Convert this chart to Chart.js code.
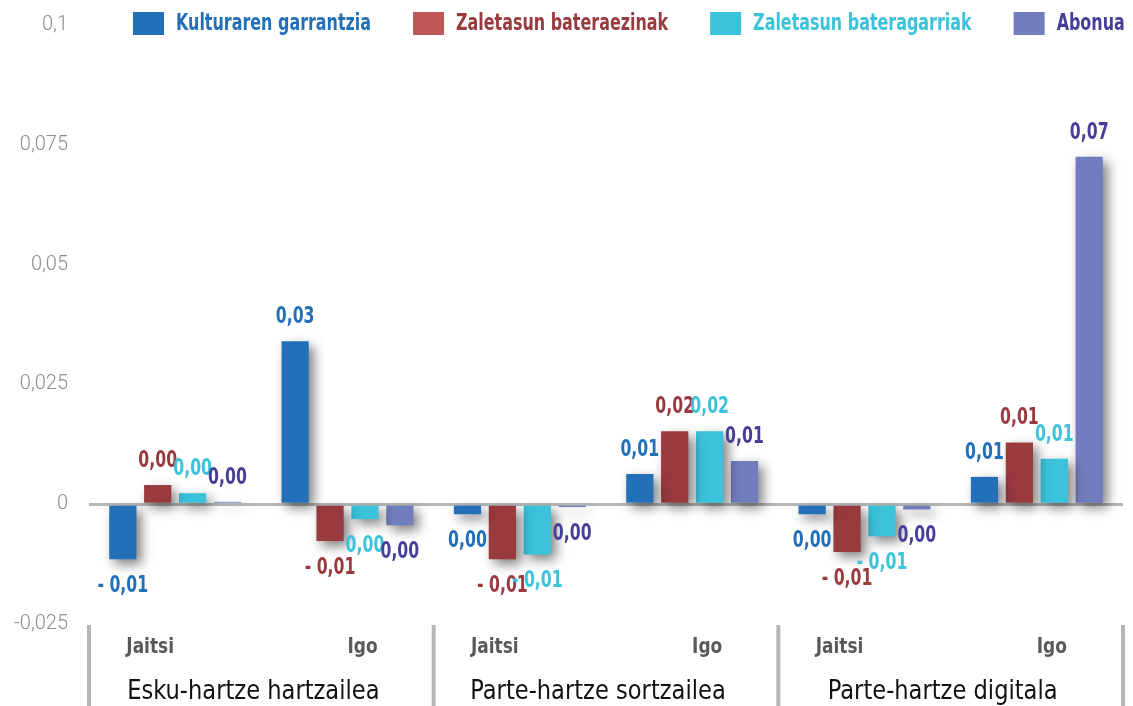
<!DOCTYPE html>
<html>
<head>
<meta charset="utf-8">
<script src="https://cdn.jsdelivr.net/npm/chart.js@4.4.0/dist/chart.umd.min.js"></script>
<style>
  html, body { margin: 0; padding: 0; background: #fff; }
  #wrap { width: 1133px; height: 706px; }
</style>
</head>
<body>
<div id="wrap"><canvas id="chart"></canvas></div>
<script>
// categories
const categories = ["Jaitsi", "Igo", "Jaitsi", "Igo", "Jaitsi", "Igo"];
const groups = ["Esku-hartze hartzailea", "Parte-hartze sortzailea", "Parte-hartze digitala"];
const seriesNames = ["Kulturaren garrantzia", "Zaletasun bateraezinak", "Zaletasun bateragarriak", "Abonua"];

// values
const kulturaren = [-0.0115, 0.034, -0.0021, 0.0063, -0.0021, 0.0057];
const bateraezinak = [0.004, -0.0077, -0.0115, 0.0152, -0.0100, 0.0129];
const bateragarriak = [0.0023, -0.0031, -0.0105, 0.0152, -0.0067, 0.0095];
const abonua = [0.0005, -0.0044, -0.0006, 0.009, -0.0011, 0.0725];

const barColors = ["#2370b9", "#993a3f", "#3ac3da", "#727dbd"];
const textColors = ["#2370b9", "#993a3f", "#3ac3da", "#463f98"];

const condensed = "'DejaVu Sans Condensed', 'DejaVu Sans', sans-serif";

function fmtTick(v) {
  return (Math.round(v * 1000) / 1000).toString().replace(".", ",");
}
function fmtLabel(v) {
  let s = Math.abs(v).toFixed(2).replace(".", ",");
  if (s == "0,00") return s;
  return (v < 0 ? "- " : "") + s;
}

// text squeezed horizontally, to look like the narrow font of the original
function narrowText(ctx, text, x, y, sx) {
  ctx.save();
  ctx.translate(x, y);
  ctx.scale(sx, 1);
  ctx.fillText(text, 0, 0);
  ctx.restore();
}

// drop shadow under the bars
const shadowPlugin = {
  id: "shadow",
  beforeDatasetDraw(chart) {
    const ctx = chart.ctx;
    ctx.save();
    ctx.shadowColor = "rgba(0,0,0,0.5)";
    ctx.shadowBlur = 12;
    ctx.shadowOffsetX = 5;
    ctx.shadowOffsetY = 5;
  },
  afterDatasetDraw(chart) {
    chart.ctx.restore();
  }
};

// value labels above / below every bar
const valueLabels = {
  id: "valueLabels",
  afterDatasetsDraw(chart) {
    const ctx = chart.ctx;
    ctx.save();
    ctx.font = "bold 23px " + condensed;
    ctx.textAlign = "center";
    ctx.textBaseline = "middle";
    chart.data.datasets.forEach((ds, i) => {
      const meta = chart.getDatasetMeta(i);
      ctx.fillStyle = textColors[i];
      meta.data.forEach((bar, j) => {
        const v = ds.data[j];
        const y = v >= 0 ? bar.y - 24 : bar.y + 27;
        narrowText(ctx, fmtLabel(v), bar.x, y, 0.76);
      });
    });
    ctx.restore();
  }
};

// legend drawn on top row
const topLegend = {
  id: "topLegend",
  afterDraw(chart) {
    const ctx = chart.ctx;
    ctx.save();
    ctx.font = "bold 23px " + condensed;
    ctx.textBaseline = "middle";
    ctx.textAlign = "left";
    const sx = 0.77;
    let x = 133;
    const y = 24;
    chart.data.datasets.forEach((ds, i) => {
      ctx.fillStyle = i == 1 ? "#c05756" : barColors[i];
      ctx.fillRect(x, y - 12, 31, 23);
      x += 31 + 12;
      ctx.fillStyle = textColors[i];
      narrowText(ctx, ds.label, x, y, sx);
      x += ctx.measureText(ds.label).width * sx + 42;
    });
    ctx.restore();
  }
};

// category labels, group names and separators under the plot
const bottomAxis = {
  id: "bottomAxis",
  afterDraw(chart) {
    const ctx = chart.ctx;
    const xs = chart.scales.x;
    const area = chart.chartArea;
    const h = chart.height;
    ctx.save();
    const edges = [area.left];
    for (let g = 1; g < groups.length; g++) {
      edges.push((xs.getPixelForValue(g * 2 - 1) + xs.getPixelForValue(g * 2)) / 2);
    }
    edges.push(area.right);
    ctx.strokeStyle = "#b4b8b8";
    ctx.lineWidth = 4;
    edges.forEach(e => {
      ctx.beginPath();
      ctx.moveTo(e, area.bottom + 1);
      ctx.lineTo(e, h);
      ctx.stroke();
    });
    ctx.textAlign = "center";
    ctx.textBaseline = "middle";
    ctx.font = "bold 21px " + condensed;
    ctx.fillStyle = "#595959";
    categories.forEach((c, i) => {
      const px = xs.getPixelForValue(i) + (i % 2 == 0 ? -25 : 15);
      narrowText(ctx, c, px, area.bottom + 24, 0.9);
    });
    ctx.font = "27px " + condensed;
    ctx.fillStyle = "#111111";
    groups.forEach((g, i) => {
      narrowText(ctx, g, (edges[i] + edges[i + 1]) / 2 - 8, area.bottom + 68, 0.93);
    });
    ctx.restore();
  }
};

const seriesData = [kulturaren, bateraezinak, bateragarriak, abonua];

new Chart("chart", {
  type: "bar",
  data: {
    labels: categories,
    datasets: seriesData.map((d, i) => ({
      label: seriesNames[i],
      data: d,
      backgroundColor: barColors[i],
      borderWidth: 0,
      categoryPercentage: 0.81,
      barPercentage: 0.78
    }))
  },
  options: {
    responsive: true,
    maintainAspectRatio: false,
    animation: false,
    layout: { padding: { top: 25, bottom: 82, right: 10, left: 0 } },
    plugins: {
      legend: { display: false },
      tooltip: { enabled: false }
    },
    scales: {
      x: { display: false },
      y: {
        min: -0.025,
        max: 0.1,
        afterFit(scale) {
          scale.width = 89;
          scale.paddingTop = 0;
          scale.paddingBottom = 0;
        },
        afterBuildTicks(scale) {
          scale.ticks = [-0.025, 0, 0.025, 0.05, 0.075, 0.1].map(v => ({ value: v }));
        },
        ticks: {
          padding: 21,
          color: "#8e8e8e",
          font: { family: "Roboto, 'Liberation Sans', sans-serif", size: 20, weight: 300 },
          callback: v => fmtTick(v)
        },
        border: { display: false },
        grid: {
          drawTicks: false,
          lineWidth: 3,
          color: c => c.tick && c.tick.value === 0 ? "#b5b8b8" : "rgba(0,0,0,0)"
        }
      }
    }
  },
  plugins: [shadowPlugin, valueLabels, topLegend, bottomAxis]
});
</script>
</body>
</html>
